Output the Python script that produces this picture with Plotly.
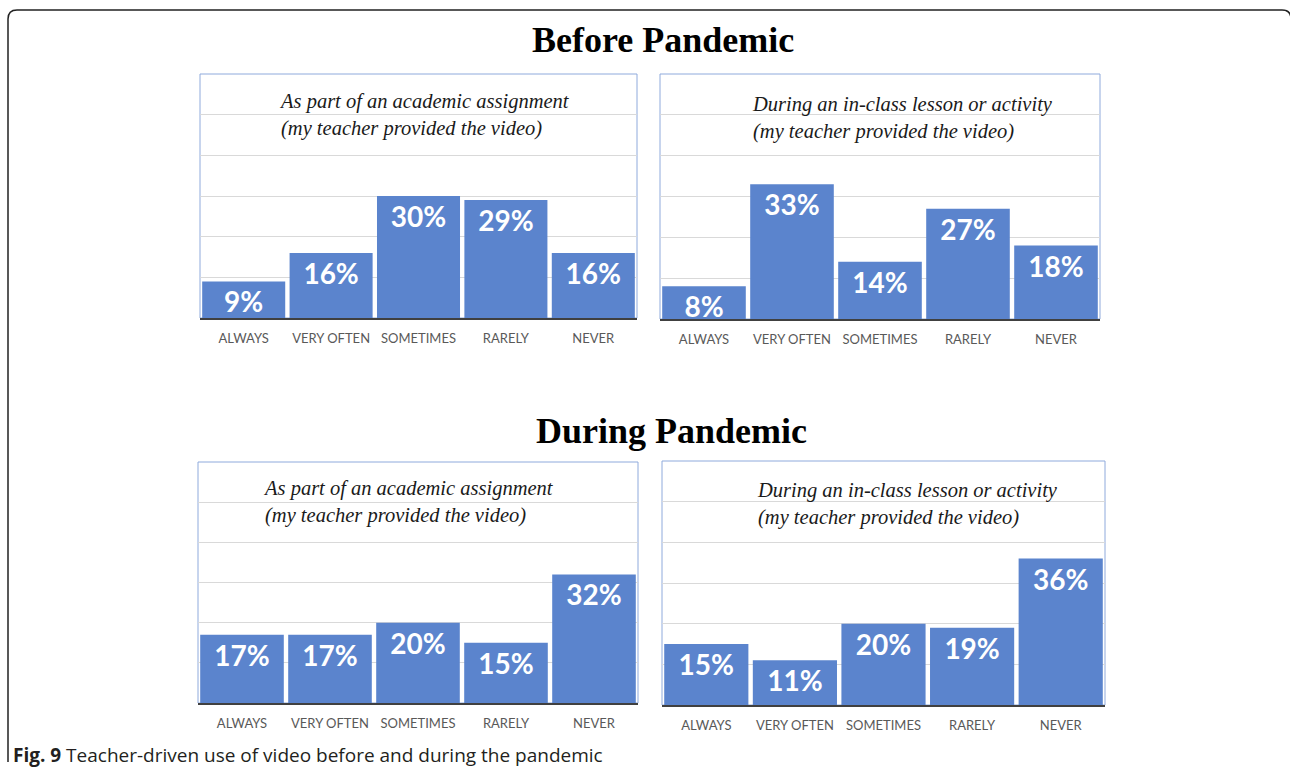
import plotly.graph_objects as go

W, H = 1290, 774

categories = ["ALWAYS", "VERY OFTEN", "SOMETIMES", "RARELY", "NEVER"]
before_assignment = [9, 16, 30, 29, 16]
before_inclass = [8, 33, 14, 27, 18]
during_assignment = [17, 17, 20, 15, 32]
during_inclass = [15, 11, 20, 19, 36]

section_titles = ["Before Pandemic", "During Pandemic"]
subtitle_assignment = "As part of an academic assignment<br>(my teacher provided the video)"
subtitle_inclass = "During an in-class lesson or activity<br>(my teacher provided the video)"
caption_bold = "Fig. 9"
caption_text = " Teacher-driven use of video before and during the pandemic"

BAR = "#5B84CD"
BORDER = "#8FAADC"
GRID = "#D9D9D9"


def px_x(p):
    return p / W


def px_y(p):
    return 1 - p / H


# (left, right, top, bottom) in pixels
panels = [
    (before_assignment, subtitle_assignment, (200, 637, 74, 318), (277, 88)),
    (before_inclass, subtitle_inclass, (660, 1100, 74, 319), (750, 91)),
    (during_assignment, subtitle_assignment, (198, 638, 462, 703), (261, 475)),
    (during_inclass, subtitle_inclass, (662, 1105, 461, 705), (755, 477)),
]

fig = go.Figure()
layout = {}
annotations = []
shapes = []

for i, (vals, sub, (l, r, t, b), (sx, sy)) in enumerate(panels):
    n = "" if i == 0 else str(i + 1)
    fig.add_trace(go.Bar(
        x=categories, y=vals,
        xaxis="x" + n, yaxis="y" + n,
        marker=dict(color=BAR, line=dict(width=0)),
        texttemplate="%{y}%",
        textposition="inside",
        insidetextanchor="end",
        constraintext="none",
        textfont=dict(family="Lato", size=28, color="white", weight="bold"),
        showlegend=False,
        hoverinfo="skip",
    ))
    layout["xaxis" + n] = dict(
        domain=[px_x(l), px_x(r)],
        anchor="y" + n,
        showline=True, linecolor="#404040", linewidth=2,
        ticks="", showgrid=False,
        tickfont=dict(family="Lato", size=13, color="#595959"),
        ticklabelstandoff=7,
        fixedrange=True,
    )
    layout["yaxis" + n] = dict(
        domain=[px_y(b), px_y(t)],
        anchor="x" + n,
        range=[0, 60], dtick=10,
        showgrid=True, gridcolor=GRID, gridwidth=1,
        zeroline=False, showticklabels=False, ticks="",
        fixedrange=True,
    )
    shapes.append(dict(
        type="rect", xref="x" + n + " domain", yref="y" + n + " domain",
        x0=0, x1=1, y0=0, y1=1,
        line=dict(color=BORDER, width=1), layer="below",
    ))
    annotations.append(dict(
        text="<i>" + sub + "</i>", xref="paper", yref="paper",
        x=px_x(sx), y=px_y(sy), xanchor="left", yanchor="top",
        align="left", showarrow=False,
        font=dict(family="Liberation Serif", size=20.5, color="#1a1a1a"),
    ))

# Section titles
annotations.append(dict(
    text="<b>" + section_titles[0] + "</b>", xref="paper", yref="paper",
    x=px_x(663), y=px_y(40), xanchor="center", yanchor="middle",
    showarrow=False, font=dict(family="Liberation Serif", size=36, color="black"),
))
annotations.append(dict(
    text="<b>" + section_titles[1] + "</b>", xref="paper", yref="paper",
    x=px_x(671), y=px_y(431), xanchor="center", yanchor="middle",
    showarrow=False, font=dict(family="Liberation Serif", size=36, color="black"),
))
# Caption
annotations.append(dict(
    text="<b>" + caption_bold + "</b>" + caption_text, xref="paper", yref="paper",
    x=px_x(11), y=px_y(755), xanchor="left", yanchor="middle",
    showarrow=False, font=dict(family="Open Sans", size=19, color="#231F20"),
))

# Outer rounded frame (right edge just off the page)
rx, ry = 9 / W, 9 / H
x0, y0 = px_x(8), px_y(10)
x1, y1 = px_x(1291), px_y(771)
path = (f"M {x0},{y1 + ry} L {x0},{y0 - ry} Q {x0},{y0} {x0 + rx},{y0} "
        f"L {x1 - rx},{y0} Q {x1},{y0} {x1},{y0 - ry} L {x1},{y1}")
shapes.append(dict(type="path", xref="paper", yref="paper", path=path,
                   line=dict(color="#222222", width=1.5)))

fig.update_layout(
    width=W, height=H,
    margin=dict(l=0, r=0, t=0, b=0),
    paper_bgcolor="white", plot_bgcolor="white",
    bargap=0.05,
    annotations=annotations, shapes=shapes,
    **layout,
)

fig.write_html("out.html", config={"displayModeBar": False})
